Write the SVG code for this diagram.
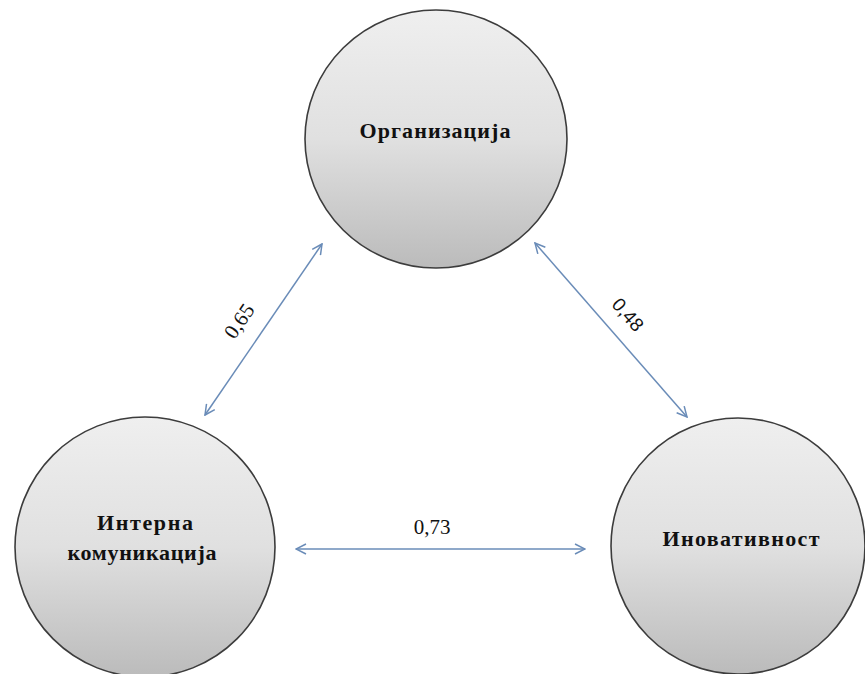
<svg xmlns="http://www.w3.org/2000/svg" width="865" height="674" viewBox="0 0 865 674">
  <style>
    .node { stroke: #3c3c3c; stroke-width: 1.6; fill: url(#ball); }
    .label { font-family: "Liberation Serif", "Times New Roman", serif; font-weight: bold; font-size: 22px; fill: #111; text-anchor: middle; }
    .link { stroke: #6a8cb8; stroke-width: 1.5; fill: none; marker-start: url(#tip); marker-end: url(#tip); }
    .weight { font-family: "Liberation Serif", "Times New Roman", serif; font-size: 21px; fill: #111; text-anchor: middle; }
  </style>
  <defs>
    <linearGradient id="ball" x1="0" y1="0" x2="0" y2="1">
      <stop offset="0" stop-color="#efefef"/>
      <stop offset="0.5" stop-color="#e0e0e0"/>
      <stop offset="1" stop-color="#bbbbbb"/>
    </linearGradient>
    <marker id="tip" viewBox="0 0 12 12" refX="11" refY="6" markerWidth="12" markerHeight="12" markerUnits="userSpaceOnUse" orient="auto-start-reverse">
      <path d="M1,1 L11,6 L1,11" fill="none" stroke="#6a8cb8" stroke-width="1.5"/>
    </marker>
  </defs>

  <rect width="865" height="674" fill="#ffffff"/>

  <!-- connectors -->
  <g id="connectors">
    <line class="link" x1="205" y1="415" x2="322" y2="244"/>
    <line class="link" x1="535" y1="243" x2="687" y2="417"/>
    <line class="link" x1="296" y1="549" x2="585" y2="549"/>
    <text class="weight" transform="translate(245,325) rotate(-55.6)">0,65</text>
    <text class="weight" style="font-family: 'Liberation Sans', Arial, sans-serif; font-size: 19px;" transform="translate(623,319) rotate(49)">0,48</text>
    <text class="weight" x="432" y="534">0,73</text>
  </g>

  <!-- nodes -->
  <g id="organizacija">
    <ellipse class="node" cx="436" cy="139" rx="131" ry="129"/>
    <text class="label" x="435" y="138" textLength="151" lengthAdjust="spacing">Организација</text>
  </g>
  <g id="interna-komunikacija">
    <ellipse class="node" cx="145" cy="547" rx="130" ry="130"/>
    <text class="label" x="145" y="530" textLength="96" lengthAdjust="spacing">Интерна</text>
    <text class="label" x="142" y="560" textLength="149" lengthAdjust="spacing">комуникација</text>
  </g>
  <g id="inovativnost">
    <ellipse class="node" cx="738" cy="546" rx="127" ry="128"/>
    <text class="label" x="741" y="546" textLength="157" lengthAdjust="spacing">Иновативност</text>
  </g>
</svg>
